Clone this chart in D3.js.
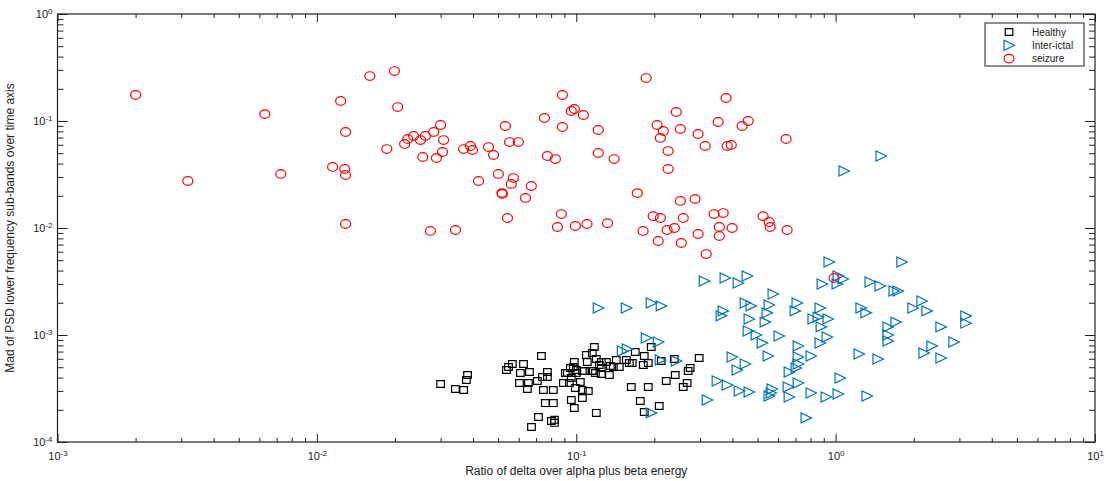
<!DOCTYPE html>
<html>
<head>
<meta charset="utf-8">
<script src="https://cdn.jsdelivr.net/npm/d3@7"></script>
<style>
  body { margin: 0; background: #fff; }
  text { font-family: "Liberation Sans", Arial, sans-serif; fill: #222; }
</style>
</head>
<body>
<div id="chart"></div>
<script>
// Healthy (squares)
const healthyX = [0.0300,0.0342,0.0368,0.0377,0.0381,0.0538,0.0548,0.0567,0.0609,0.0626,0.0660,0.0734,
  0.0604,0.0654,0.0648,0.0708,0.0741,0.0774,0.0774,0.0747,0.0816,0.0760,0.0816,0.0715,0.0672,0.0802,0.0824,0.0824,
  0.0892,0.0924,0.0949,0.0983,0.1001,0.0941,0.1037,0.0992,0.1056,0.1113,0.1056,0.0957,0.0983,
  0.1094,0.1174,0.1153,0.1103,0.1195,0.1249,0.1164,0.1249,0.1249,0.1342,0.1195,
  0.1306,0.1353,0.1390,0.1427,0.1466,0.1560,0.1602,0.1644,
  0.1689,0.1829,0.1946,0.1813,0.1895,0.2127,0.2387,
  0.1630,0.1895,0.1766,0.2089,0.1829,
  0.2223,0.2408,0.2585,0.2677,0.2701,0.2749,0.2979,
  0.1075,0.1153,0.1227,0.1185,0.0908,0.0974,0.0957,0.1001,0.1056];
const healthyY = [3.48e-4,3.13e-4,3.06e-4,3.80e-4,4.23e-4,4.71e-4,5.02e-4,5.36e-4,4.41e-4,5.36e-4,4.51e-4,6.36e-4,
  3.56e-4,3.56e-4,3.13e-4,3.72e-4,4.05e-4,4.51e-4,4.05e-4,3.06e-4,3.06e-4,2.31e-4,2.31e-4,1.71e-4,1.38e-4,1.57e-4,1.51e-4,1.61e-4,
  3.56e-4,4.41e-4,4.91e-4,5.59e-4,4.71e-4,3.56e-4,3.64e-4,3.20e-4,3.06e-4,3.00e-4,2.58e-4,2.47e-4,2.08e-4,
  6.50e-4,7.73e-4,6.79e-4,5.59e-4,5.97e-4,5.59e-4,4.61e-4,4.91e-4,4.32e-4,4.23e-4,1.87e-4,
  5.59e-4,5.13e-4,5.02e-4,5.84e-4,5.02e-4,5.84e-4,5.47e-4,5.47e-4,
  6.94e-4,6.36e-4,7.73e-4,5.24e-4,5.47e-4,5.71e-4,5.97e-4,
  3.27e-4,3.27e-4,2.42e-4,2.17e-4,1.91e-4,
  3.72e-4,4.23e-4,3.27e-4,3.56e-4,4.61e-4,4.91e-4,6.10e-4,
  4.61e-4,4.61e-4,5.24e-4,4.41e-4,4.41e-4,5.02e-4,3.96e-4,4.41e-4,4.61e-4];

// Inter-ictal (triangles)
const interX = [1.077,1.496,
  0.1216,0.1560,0.1946,0.2127,0.1862,0.2071,0.1505,0.1573,0.2108,0.2430,0.1946,
  0.3113,0.375,0.421,0.456,0.448,0.472,0.3685,0.3620,
  0.464,0.460,0.494,0.521,0.399,0.448,0.417,
  0.3494,0.382,0.425,0.464,0.3198,
  0.574,0.554,0.544,0.535,0.605,0.549,
  0.710,0.698,0.717,0.717,0.804,0.662,0.704,0.717,
  0.717,0.656,0.569,0.564,0.554,0.662,
  0.943,1.80,0.887,1.013,1.022,1.068,1.357,1.483,1.679,1.739,
  0.871,0.856,0.818,0.935,0.879,1.252,1.309,
  1.592,1.708,1.592,1.592,1.986,2.151,2.249,2.546,3.177,3.177,
  2.857,2.351,2.190,2.546,
  0.927,0.871,1.231,1.456,1.040,
  0.804,0.919,1.022,1.321,0.769];
const interY = [0.0341,0.0471,
  1.79e-3,1.79e-3,1.99e-3,1.87e-3,9.38e-4,8.60e-4,7.09e-4,7.40e-4,5.84e-4,5.71e-4,1.87e-4,
  3.20e-3,3.41e-3,3.06e-3,3.56e-3,1.99e-3,1.87e-3,1.68e-3,1.51e-3,
  1.41e-3,1.09e-3,1.00e-3,8.42e-4,6.23e-4,5.36e-4,4.71e-4,
  3.72e-4,3.41e-4,3.00e-4,2.93e-4,2.47e-4,
  2.42e-3,1.91e-3,1.61e-3,1.32e-3,9.79e-4,6.36e-4,
  1.99e-3,1.68e-3,7.89e-4,6.23e-4,6.36e-4,4.51e-4,4.91e-4,5.36e-4,
  3.56e-4,3.27e-4,3.13e-4,2.87e-4,2.69e-4,2.63e-4,
  4.81e-3,4.81e-3,3.00e-3,3.00e-3,3.56e-3,3.34e-3,3.13e-3,2.87e-3,2.58e-3,2.58e-3,
  1.79e-3,1.47e-3,1.41e-3,1.41e-3,1.19e-3,1.79e-3,1.61e-3,
  1.19e-3,1.32e-3,1.00e-3,8.79e-4,1.79e-3,2.08e-3,1.68e-3,1.19e-3,1.51e-3,1.29e-3,
  8.60e-4,7.89e-4,6.79e-4,6.10e-4,
  9.58e-4,8.42e-4,6.65e-4,5.97e-4,3.96e-4,
  2.87e-4,2.63e-4,2.81e-4,2.69e-4,1.68e-4];

// seizure (circles)
const seizureX = [0.00200,0.00318,0.0063,0.00726,0.0115,0.0128,0.0129,0.01235,0.0129,0.0129,
  0.0160,0.0199,0.0205,0.0186,0.0218,0.0224,0.0236,0.0251,0.0262,0.0282,
  0.0300,0.0308,0.0256,0.0289,0.0305,0.0368,0.0391,0.0398,0.0459,0.0480,
  0.0533,0.0553,0.0598,0.0420,0.0501,0.0572,0.0562,0.0519,0.0517,0.0637,
  0.0671,0.0543,0.0274,0.0342,0.0754,0.0884,0.0884,0.0957,0.0983,0.0774,
  0.0831,0.0876,0.0846,0.0992,0.186,0.378,0.1065,0.1216,0.1216,0.140,
  0.243,0.205,0.2165,0.211,0.252,0.295,0.3525,0.436,0.460,0.226,
  0.314,0.382,0.396,0.644,0.226,0.172,0.252,0.287,0.198,0.211,
  0.2585,0.340,0.3685,0.525,0.554,0.559,0.650,0.110,0.132,0.181,
  0.207,0.224,0.239,0.254,0.295,0.356,0.356,0.399,0.317,0.986];
const seizureY = [0.175,0.0275,0.116,0.032,0.0372,0.0356,0.0313,0.154,0.0789,0.0109,
  0.263,0.293,0.135,0.0547,0.061,0.0679,0.0724,0.0664,0.0724,0.0789,
  0.0918,0.0664,0.0461,0.0451,0.0513,0.0547,0.0584,0.0536,0.0571,0.0481,
  0.0898,0.0636,0.0636,0.0275,0.0320,0.0293,0.0258,0.0208,0.0212,0.0191,
  0.0247,0.0124,0.00938,0.00958,0.1067,0.175,0.0879,0.124,0.1295,0.0471,
  0.0441,0.0135,0.01022,0.01044,0.252,0.164,0.1138,0.0824,0.0502,0.0441,
  0.1214,0.0918,0.0806,0.0694,0.0842,0.0756,0.0979,0.0898,0.100,0.0524,
  0.0584,0.0584,0.0597,0.0679,0.0356,0.0212,0.0179,0.0187,0.0129,0.0124,
  0.0124,0.0135,0.0138,0.0129,0.01138,0.01022,0.00958,0.0109,0.0111,0.00938,
  0.00756,0.00958,0.0100,0.00724,0.00879,0.01022,0.00842,0.0100,0.00571,0.00341];

const xMajor = [1e-3, 1e-2, 1e-1, 1, 10];
const yMajor = [1e-4, 1e-3, 1e-2, 1e-1, 1];
const legendNames = ["Healthy", "Inter-ictal", "seizure"];

const margin = { top: 14, right: 11, bottom: 39, left: 57.5 };
const width = 1106 - margin.left - margin.right;
const height = 481 - margin.top - margin.bottom;

const svg = d3.select("#chart")
  .append("svg")
  .attr("width", 1106)
  .attr("height", 481)
  .append("g")
  .attr("transform", `translate(${margin.left},${margin.top})`);

const x = d3.scaleLog().domain([1e-3, 10]).range([0, width]);
const y = d3.scaleLog().domain([1e-4, 1]).range([height, 0]);

// minor ticks: 2..9 in each decade
function minors(majors) {
  const out = [];
  for (let i = 0; i < majors.length - 1; i++)
    for (let k = 2; k <= 9; k++) out.push(majors[i] * k);
  return out;
}

function expLabel(sel) {
  sel.selectAll(".tick text").each(function (d) {
    const t = d3.select(this);
    t.text(null);
    t.append("tspan").text("10");
    t.append("tspan").attr("dy", "-0.45em").attr("font-size", "8px").text(Math.round(Math.log10(d)));
  });
}

const axisStyle = g => {
  g.select(".domain").remove();
  g.selectAll(".tick line").attr("stroke", "#222").attr("stroke-width", 1);
};

// bottom
svg.append("g").attr("transform", `translate(0,${height})`)
  .call(d3.axisBottom(x).tickValues(minors(xMajor)).tickSize(-4).tickFormat(""))
  .call(axisStyle);
svg.append("g").attr("transform", `translate(0,${height})`)
  .call(d3.axisBottom(x).tickValues(xMajor).tickSize(-8).tickPadding(10))
  .call(axisStyle)
  .call(g => g.selectAll("text").attr("font-size", "11px"))
  .call(expLabel);
// top
svg.append("g")
  .call(d3.axisTop(x).tickValues(minors(xMajor)).tickSize(-4).tickFormat(""))
  .call(axisStyle);
svg.append("g")
  .call(d3.axisTop(x).tickValues(xMajor).tickSize(-8).tickFormat(""))
  .call(axisStyle);
// left
svg.append("g")
  .call(d3.axisLeft(y).tickValues(minors(yMajor)).tickSize(-6).tickFormat(""))
  .call(axisStyle);
svg.append("g")
  .call(d3.axisLeft(y).tickValues(yMajor).tickSize(-10).tickPadding(5))
  .call(axisStyle)
  .call(g => g.selectAll("text").attr("font-size", "11px"))
  .call(expLabel);
// right
svg.append("g").attr("transform", `translate(${width},0)`)
  .call(d3.axisRight(y).tickValues(minors(yMajor)).tickSize(-6).tickFormat(""))
  .call(axisStyle);
svg.append("g").attr("transform", `translate(${width},0)`)
  .call(d3.axisRight(y).tickValues(yMajor).tickSize(-10).tickFormat(""))
  .call(axisStyle);

svg.append("rect")
  .attr("width", width).attr("height", height)
  .attr("fill", "none").attr("stroke", "#222").attr("stroke-width", 1.2);

// axis titles
svg.append("text")
  .attr("x", width / 2).attr("y", height + 33)
  .attr("text-anchor", "middle").attr("font-size", "12px")
  .text("Ratio of delta over alpha plus beta energy");
svg.append("text")
  .attr("transform", `translate(${-44},${height / 2}) rotate(-90)`)
  .attr("text-anchor", "middle").attr("font-size", "12px")
  .text("Mad of PSD lower frequency sub-bands over time axis");

// markers
const square = "M-3.8,-3.4H3.8V3.4H-3.8Z";
const triangle = "M-5,-5L-5,5L5.5,0Z";
const blue = "#0072bd", red = "#ff0000";

const healthy = d3.zip(healthyX, healthyY);
const inter = d3.zip(interX, interY);
const seizure = d3.zip(seizureX, seizureY);

svg.selectAll(".healthy").data(healthy).enter()
  .append("path").attr("class", "healthy")
  .attr("d", square)
  .attr("transform", d => `translate(${x(d[0])},${y(d[1])})`)
  .attr("fill", "none").attr("stroke", "#000").attr("stroke-width", 1.2);

svg.selectAll(".inter").data(inter).enter()
  .append("path").attr("class", "inter")
  .attr("d", triangle)
  .attr("transform", d => `translate(${x(d[0])},${y(d[1])})`)
  .attr("fill", "none").attr("stroke", blue).attr("stroke-width", 1.2);

svg.selectAll(".seizure").data(seizure).enter()
  .append("ellipse").attr("class", "seizure")
  .attr("cx", d => x(d[0])).attr("cy", d => y(d[1]))
  .attr("rx", 5).attr("ry", 4.3)
  .attr("fill", "none").attr("stroke", red).attr("stroke-width", 1.2);

// legend
const lg = svg.append("g").attr("transform", `translate(${985 - margin.left},${23 - margin.top})`);
lg.append("rect").attr("width", 99).attr("height", 43)
  .attr("fill", "#fff").attr("stroke", "#444").attr("stroke-width", 1.2);
legendNames.forEach((name, i) => {
  const row = lg.append("g").attr("transform", `translate(24,${9 + i * 13.3})`);
  if (i === 0) row.append("path").attr("d", square).attr("fill", "none").attr("stroke", "#000").attr("stroke-width", 1.2);
  if (i === 1) row.append("path").attr("d", triangle).attr("fill", "none").attr("stroke", blue).attr("stroke-width", 1.2);
  if (i === 2) row.append("ellipse").attr("rx", 5).attr("ry", 4.3).attr("fill", "none").attr("stroke", red).attr("stroke-width", 1.2);
  row.append("text").attr("x", 23).attr("dy", "0.35em").attr("font-size", "10px").text(name);
});
</script>
</body>
</html>
